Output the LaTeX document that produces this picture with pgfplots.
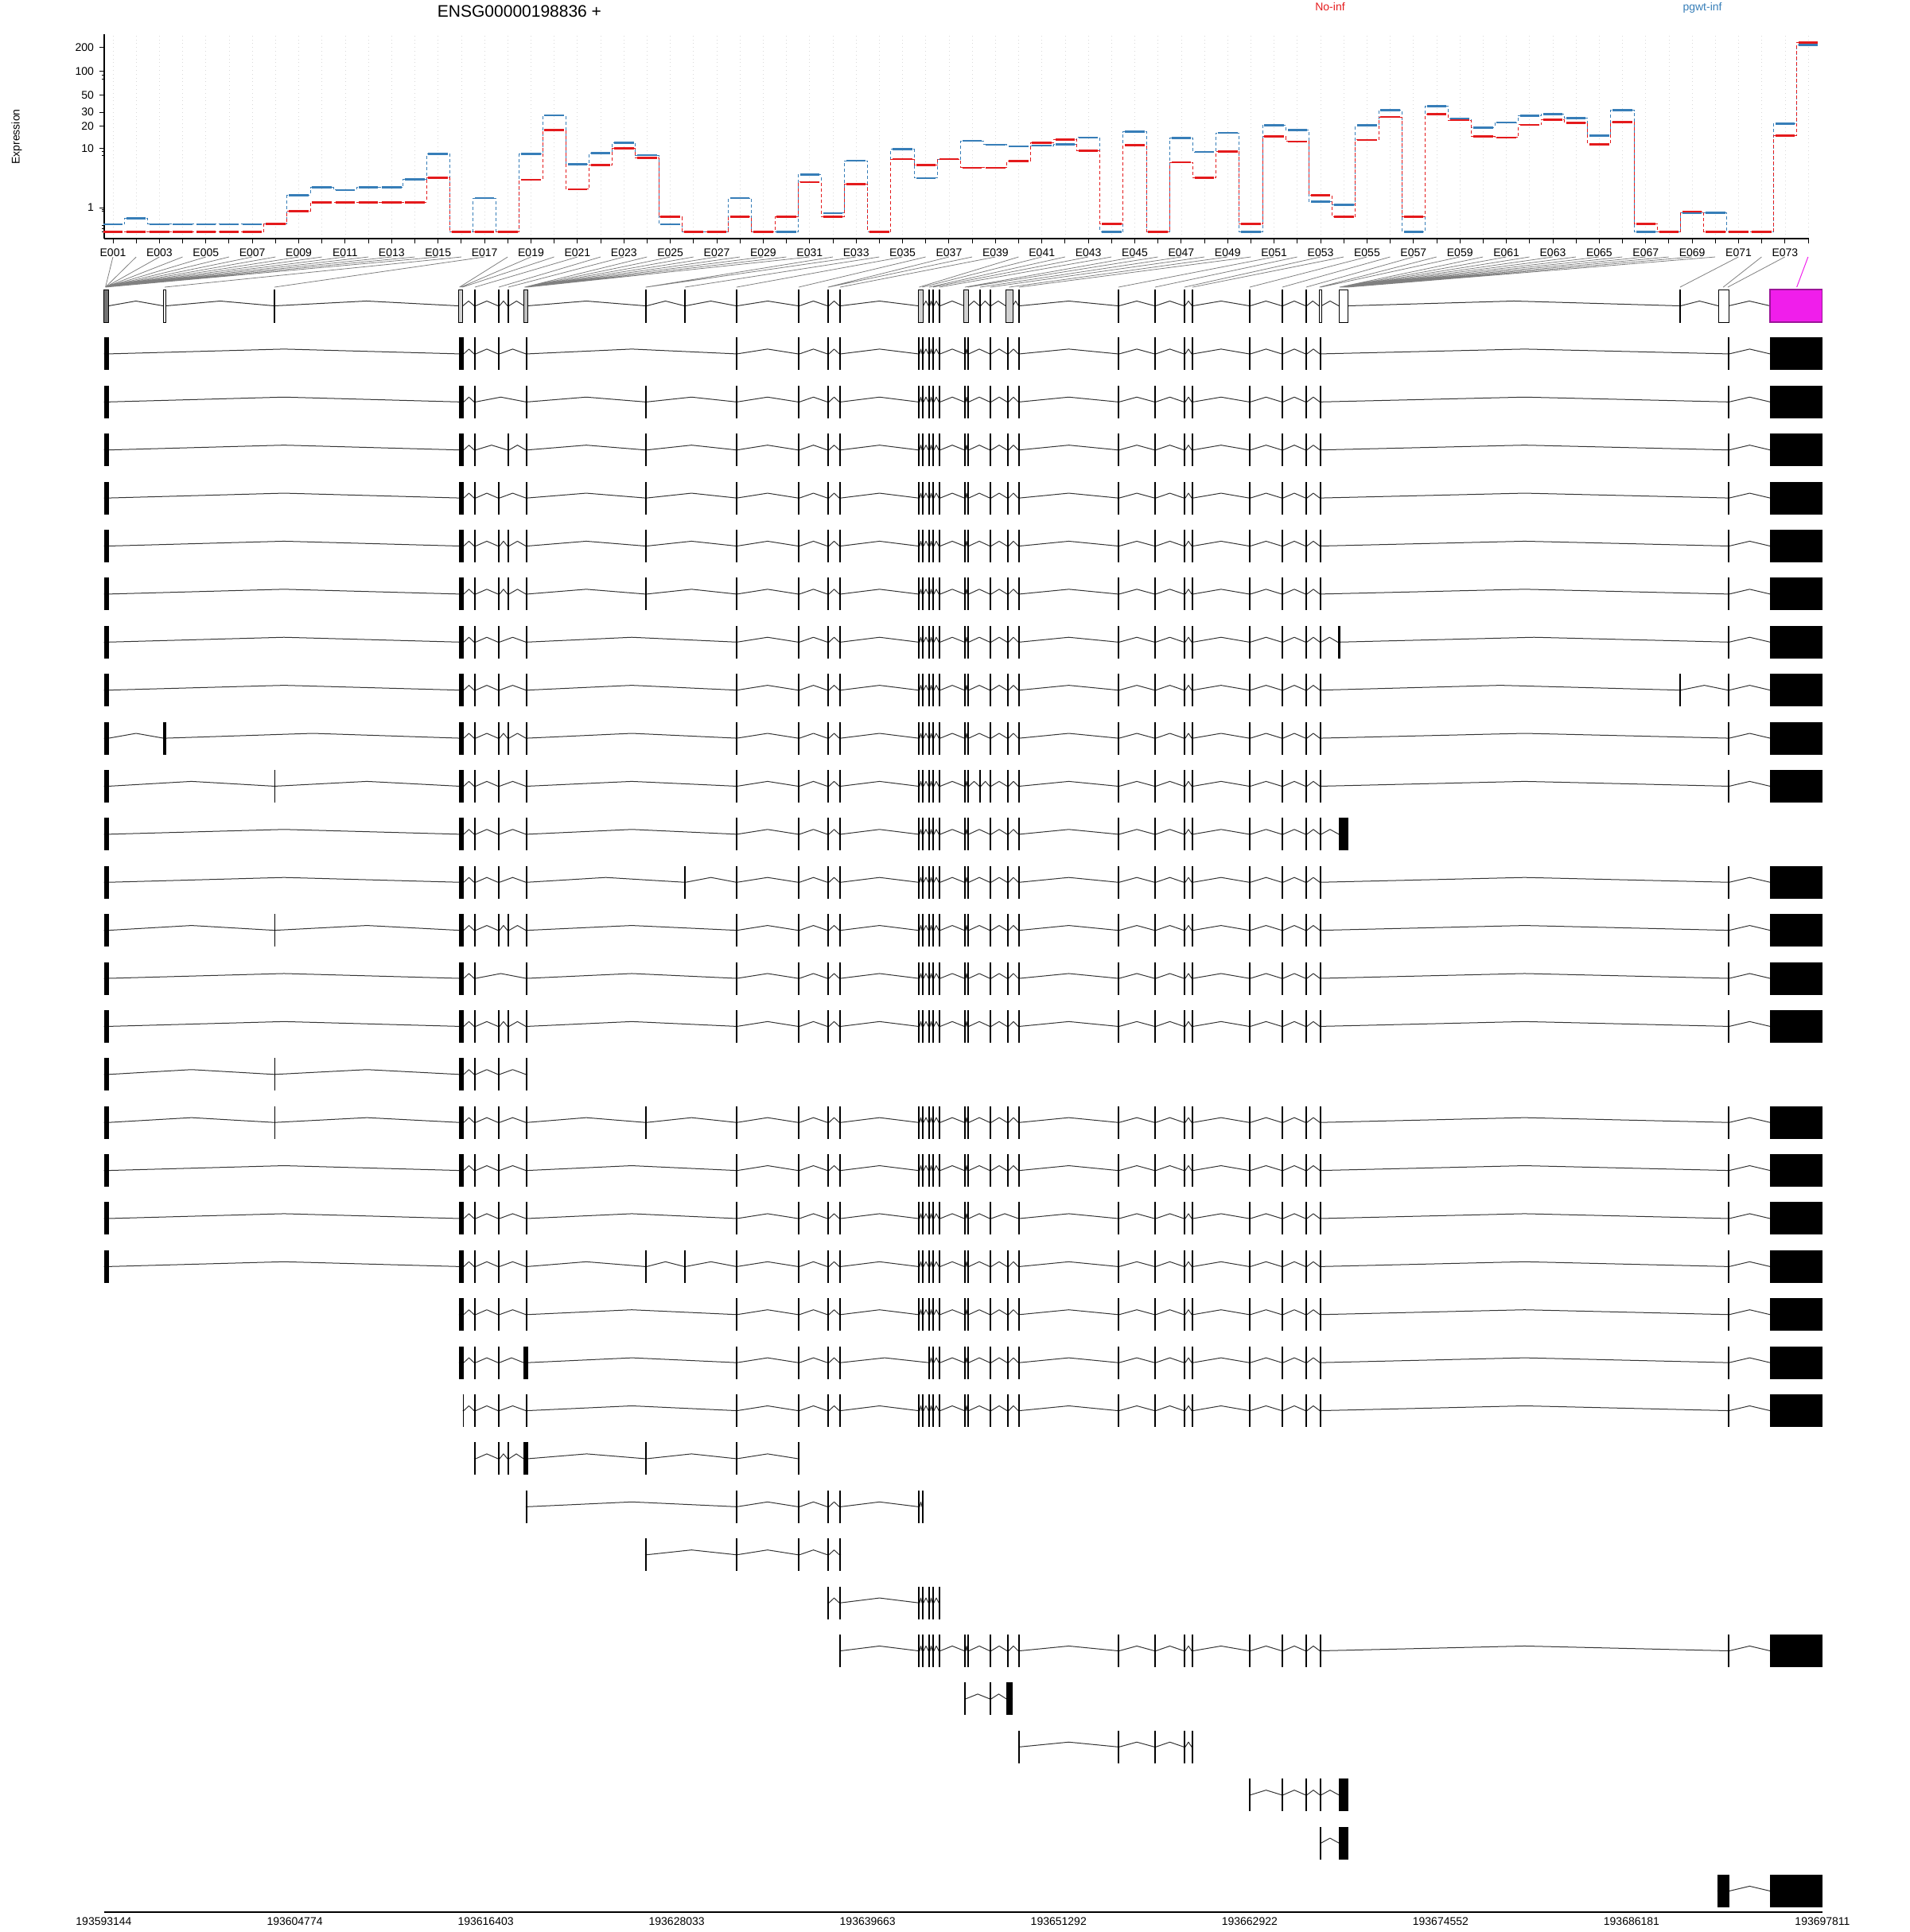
\documentclass[border=0pt]{standalone}
\usepackage{fontspec}
\setmainfont{Liberation Sans}
\usepackage{pgfplots}
\pgfplotsset{compat=1.18}
\usepackage{pgfplotstable}

\definecolor{noinf}{HTML}{E41A1C}
\definecolor{pgwt}{HTML}{377EB8}
\definecolor{sigex}{HTML}{F01EEB}
\definecolor{sigexd}{HTML}{9C1499}

% normalised expression per exonic part (No-inf, pgwt-inf)
\pgfplotstableread{
i no pg
1 0 0.24
2 0 0.46
3 0 0.24
4 0 0.24
5 0 0.24
6 0 0.24
7 0 0.24
8 0.26 0.24
9 0.80 1.84
10 1.33 2.57
11 1.33 2.31
12 1.33 2.57
13 1.33 2.57
14 1.33 3.49
15 3.70 8.31
16 0 0
17 0 1.63
18 0 0
19 3.46 8.31
20 17.5 27.4
21 2.39 5.98
22 5.82 8.53
23 10.0 11.9
24 7.39 8.04
25 0.53 0.24
26 0 0
27 0 0
28 0.53 1.63
29 0 0
30 0.53 0
31 3.16 4.14
32 0.53 0.71
33 2.91 6.71
34 0 0
35 7.07 9.7
36 5.82 3.67
37 7.07 7.07
38 5.3 12.6
39 5.3 11.2
40 6.66 10.6
41 11.9 10.9
42 13.1 11.3
43 9.2 14.0
44 0.26 0
45 11.1 16.7
46 0 0
47 6.36 13.7
48 3.70 8.9
49 8.97 16.1
50 0.26 0
51 14.4 20.2
52 12.4 17.5
53 1.84 1.39
54 0.53 1.16
55 13.0 20.2
56 26.1 31.8
57 0.53 0
58 28.2 36.1
59 23.7 24.9
60 14.4 19.0
61 14.0 22.1
62 20.6 27.2
63 23.9 28.5
64 21.8 25.3
65 11.4 14.9
66 22.5 31.8
67 0.26 0
68 0 0
69 0.78 0.72
70 0 0.72
71 0 0
72 0 0
73 14.8 21.4
74 230 213
}\exprtab

% exon start/end, kb from 193593144
\def\Qa{0.00/0.31}
\def\Qb{3.62/3.80}
\def\Qc{10.37/10.42}
\def\Qd{21.63/21.92}
\def\Qe{22.55/22.65}
\def\Qf{24.00/24.10}
\def\Qg{24.58/24.68}
\def\Qh{25.70/25.80}
\def\Qi{32.96/33.07}
\def\Qj{35.34/35.44}
\def\Qk{38.51/38.57}
\def\Ql{42.27/42.37}
\def\Qm{44.06/44.16}
\def\Qn{44.79/44.89}
\def\Qo{49.59/49.68}
\def\Qp{49.83/49.92}
\def\Qq{50.22/50.31}
\def\QQ{50.46/50.55}
\def\Qr{50.85/50.94}
\def\Qs{52.40/52.49}
\def\Qt{52.59/52.68}
\def\Qu{53.32/53.41}
\def\Qv{53.95/54.04}
\def\Qw{55.01/55.10}
\def\Qx{55.69/55.78}
\def\Qy{61.75/61.84}
\def\Qz{63.98/64.07}
\def\QA{65.77/65.86}
\def\QB{66.25/66.34}
\def\QC{69.74/69.83}
\def\QD{71.73/71.82}
\def\QE{73.18/73.27}
\def\QF{74.05/74.14}
\def\QG{75.14/75.30}
\def\QH{75.21/75.79}
\def\QI{95.95/96.04}
\def\QJ{98.90/98.99}
\def\QK{101.47/104.66}
\def\QL{98.27/98.99}
\def\QM{25.56/25.85}
\def\QN{54.96/55.35}
\def\QO{21.86/21.92}
\def\QR{38.48/38.59}

\def\QMID{\Ql,\Qm,\Qn}
\def\QLC{\Qo,\Qp,\Qq,\QQ,\Qr}
\def\QRR{\Qy,\Qz,\QA,\QB,\QC,\QD,\QE,\QF}
\def\QSTD{\Qk,\QMID,\QLC,\Qs,\Qt,\Qv,\Qw,\Qx,\QRR}
\def\QEND{\QJ,\QK}

% gene model exonic parts (kb)
\def\QGM{0.00/0.30, 3.61/3.80, 10.37/10.41, 21.58/21.87, 22.56/22.64, 24.01/24.09, 24.59/24.67, 25.60/25.80, 32.97/33.06, 35.35/35.43, 38.50/38.58, 42.28/42.36, 44.07/44.15, 44.80/44.87, 49.60/49.90, 50.23/50.30, 50.47/50.54, 50.86/50.93, 52.39/52.66, 53.33/53.39, 53.96/54.02, 54.92/55.35, 55.71/55.77, 61.76/61.82, 63.99/64.05, 65.78/65.84, 66.27/66.33, 69.76/69.81, 71.74/71.80, 73.19/73.25, 74.00/74.15, 75.21/75.79, 95.96/96.03, 98.32/98.95, 101.47/104.66}

\newcommand\buildrow[2]{%
  \edef\rowlist{#2}%
  \pgfmathsetmacro\yapex{#1+0.1}%
  \gdef\incoords{}\gdef\excoords{}\gdef\preve{}%
  \foreach \xs/\xe in \rowlist {%
    \ifx\preve\empty\else
      \pgfmathsetmacro\xmid{(\preve+\xs)/2}%
      \xdef\incoords{\incoords (\xmid,\yapex)}%
    \fi
    \xdef\incoords{\incoords (\xs,#1) (\xe,#1)}%
    \xdef\excoords{\excoords (\xs,#1) (\xe,#1) (nan,nan)}%
    \xdef\preve{\xe}%
  }%
}
\newcommand\exrow[2]{%
  \buildrow{#1}{#2}%
  \edef\tmp{\noexpand\addplot[intron] coordinates {\incoords};}\tmp
  \edef\tmp{\noexpand\addplot[exon] coordinates {\excoords};}\tmp
}
\newcommand\gbox[3]{\addplot[draw=black, line width=0.45pt, fill=#3] coordinates {(#1,-0.34) (#2,-0.34) (#2,0.34) (#1,0.34)} -- cycle;}

\pgfplotsset{
  intron/.style={draw=black!80, line width=0.5pt, mark=none, line join=round},
  exon/.style={draw=black, line width=20.5pt, line cap=butt, mark=none},
}

\begin{document}
\begin{tikzpicture}
\path[use as bounding box] (0,0) rectangle (1200pt,-1214.5pt);

\node[font=\fontsize{10.5}{12}\selectfont, anchor=base] at (326.5pt,-11pt) {ENSG00000198836 +};
\node[font=\fontsize{7}{8}\selectfont, text=noinf, anchor=base] at (836pt,-7pt) {No-inf};
\node[font=\fontsize{7}{8}\selectfont, text=pgwt, anchor=base] at (1070pt,-7pt) {pgwt-inf};
\node[font=\fontsize{7}{8}\selectfont, rotate=90] at (10.5pt,-86pt) {Expression};

\begin{axis}[
  at={(65.5pt,-150pt)}, anchor=south west,
  scale only axis, width=1071.5pt, height=128.5pt,
  xmin=0.623, xmax=74.03, ymin=-0.086, ymax=2.466,
  axis x line*=bottom, axis y line*=left,
  axis line style={line width=0.7pt},
  clip=false,
  xtick={1,...,74},
  xticklabels={E001,,E003,,E005,,E007,,E009,,E011,,E013,,E015,,E017,,E019,,E021,,E023,,E025,,E027,,E029,,E031,,E033,,E035,,E037,,E039,,E041,,E043,,E045,,E047,,E049,,E051,,E053,,E055,,E057,,E059,,E061,,E063,,E065,,E067,,E069,,E071,,E073,},
  ytick={0.30103,1.04139,1.32222,1.49136,1.70757,2.00432,2.30320},
  yticklabels={1,10,20,30,50,100,200},
  minor ytick={0,0.04139,0.07918,0.25527,0.27875,0.95424,1.0,1.90849,1.95904},
  tick align=outside, major tick length=3pt, minor tick length=1.5pt,
  tick style={black, line width=0.5pt},
  tick label style={font=\fontsize{7}{8}\selectfont},
  xmajorgrids, major x grid style={gray!30, dotted, line width=0.4pt},
]
\addplot[pgwt, const plot mark mid, mark=none, line width=0.5pt, dash pattern=on 2pt off 1.5pt]
  table[x=i, y expr={log10(\thisrow{pg}+1)}]{\exprtab};
\addplot[draw=none, mark=none, error bars/.cd, x dir=both, x fixed=0.42, error mark=none,
  error bar style={draw=pgwt, line width=1.3pt, solid}]
  table[x=i, y expr={log10(\thisrow{pg}+1)}]{\exprtab};
\addplot[noinf, const plot mark mid, mark=none, line width=0.5pt, dash pattern=on 2pt off 1.5pt]
  table[x=i, y expr={log10(\thisrow{no}+1)}]{\exprtab};
\addplot[draw=none, mark=none, error bars/.cd, x dir=both, x fixed=0.42, error mark=none,
  error bar style={draw=noinf, line width=1.3pt, solid}]
  table[x=i, y expr={log10(\thisrow{no}+1)}]{\exprtab};
\end{axis}

\begin{axis}[
  at={(65.25pt,-1202pt)}, anchor=south west,
  scale only axis, width=1080.25pt, height=1024.85pt,
  xmin=0, xmax=104.667, ymin=-33.44, ymax=0.5,
  axis x line*=bottom, axis y line=none,
  axis line style={line width=0.7pt},
  clip=false, unbounded coords=jump,
  xtick={0,11.62967,23.25933,34.889,46.51867,58.14833,69.778,81.40767,93.03733,104.667},
  xticklabels={193593144,193604774,193616403,193628033,193639663,193651292,193662922,193674552,193686181,193697811},
  major tick length=0pt,
  tick label style={font=\fontsize{7}{8}\selectfont},
]
% lines from exon labels to gene model
\gdef\lcoords{}
\foreach \ii/\kk in {1/0.10,2/0.10,3/0.10,4/0.10,5/0.10,6/0.10,7/0.10,8/0.10,9/0.10,10/0.10,11/0.10,12/0.10,13/0.10,14/0.10,15/0.10,
 16/3.70,17/10.39,18/21.66,19/21.75,20/21.84,21/22.60,22/24.05,23/24.63,
 24/25.62,25/25.645,26/25.67,27/25.695,28/25.72,29/25.745,30/25.77,31/25.79,
 32/33.00,33/33.04,34/35.39,35/38.54,36/42.32,37/44.09,38/44.13,39/44.84,
 40/49.65,41/49.85,42/50.26,43/50.50,44/50.89,45/52.44,46/52.62,47/53.36,48/53.99,49/55.13,50/55.74,
 51/61.79,52/64.02,53/65.81,54/66.30,55/69.78,56/71.77,57/73.22,58/74.03,59/74.12,
 60/75.25,61/75.30,62/75.35,63/75.40,64/75.45,65/75.50,66/75.55,67/75.60,68/75.65,69/75.70,70/75.75,
 71/95.99,72/98.62,73/98.90}{%
  \pgfmathsetmacro\kt{0.0242+(\ii-0.623)*1.41411}%
  \xdef\lcoords{\lcoords (\kt,1.018) (\kk,0.389) (nan,nan)}%
}
\edef\tmp{\noexpand\addplot[gray, line width=0.4pt, mark=none] coordinates {\lcoords};}\tmp
\addplot[sigex, line width=0.5pt, mark=none] coordinates {(103.787,1.018) (103.1,0.389)};

% gene model
\buildrow{0}{\QGM}
\edef\tmp{\noexpand\addplot[intron] coordinates {\incoords};}\tmp
\foreach \xs/\xe in \QGM {\edef\tmp{\noexpand\gbox{\xs}{\xe}{white}}\tmp}
\gbox{0.00}{0.30}{black!55}
\gbox{21.58}{21.87}{gray!35}
\gbox{25.60}{25.80}{gray!50}
\gbox{49.60}{49.90}{gray!35}
\gbox{52.39}{52.66}{gray!35}
\gbox{54.92}{55.35}{gray!35}
\addplot[draw=sigexd, fill=sigex, line width=0.6pt] coordinates {(101.47,-0.34) (104.66,-0.34) (104.66,0.34) (101.47,0.34)} -- cycle;

% transcripts
\exrow{-1}{\Qa,\Qd,\Qe,\Qf,\Qh,\QSTD,\QEND}
\exrow{-2}{\Qa,\Qd,\Qe,\Qh,\Qi,\QSTD,\QEND}
\exrow{-3}{\Qa,\Qd,\Qe,\Qg,\Qh,\Qi,\QSTD,\QEND}
\exrow{-4}{\Qa,\Qd,\Qe,\Qf,\Qh,\Qi,\QSTD,\QEND}
\exrow{-5}{\Qa,\Qd,\Qe,\Qf,\Qg,\Qh,\Qi,\QSTD,\QEND}
\exrow{-6}{\Qa,\Qd,\Qe,\Qf,\Qg,\Qh,\Qi,\QSTD,\QEND}
\exrow{-7}{\Qa,\Qd,\Qe,\Qf,\Qh,\QSTD,\QG,\QEND}
\exrow{-8}{\Qa,\Qd,\Qe,\Qf,\Qh,\QSTD,\QI,\QEND}
\exrow{-9}{\Qa,\Qb,\Qd,\Qe,\Qf,\Qg,\Qh,\QSTD,\QEND}
\exrow{-10}{\Qa,\Qc,\Qd,\Qe,\Qf,\Qh,\Qk,\QMID,\QLC,\Qs,\Qt,\Qu,\Qv,\Qw,\Qx,\QRR,\QEND}
\exrow{-11}{\Qa,\Qd,\Qe,\Qf,\Qh,\QSTD,\QH}
\exrow{-12}{\Qa,\Qd,\Qe,\Qf,\Qh,\Qj,\QSTD,\QEND}
\exrow{-13}{\Qa,\Qc,\Qd,\Qe,\Qf,\Qg,\Qh,\QSTD,\QEND}
\exrow{-14}{\Qa,\Qd,\Qe,\Qh,\QSTD,\QEND}
\exrow{-15}{\Qa,\Qd,\Qe,\Qf,\Qg,\Qh,\QSTD,\QEND}
\exrow{-16}{\Qa,\Qc,\Qd,\Qe,\Qf,\Qh}
\exrow{-17}{\Qa,\Qc,\Qd,\Qe,\Qf,\Qh,\Qi,\QSTD,\QEND}
\exrow{-18}{\Qa,\Qd,\Qe,\Qf,\Qh,\QR,\QMID,\QLC,\Qs,\Qt,\Qv,\Qw,\Qx,\QRR,\QEND}
\exrow{-19}{\Qa,\Qd,\Qe,\Qf,\Qh,\Qk,\QMID,\QLC,\Qs,\Qt,\Qv,\Qx,\QRR,\QEND}
\exrow{-20}{\Qa,\Qd,\Qe,\Qf,\Qh,\Qi,\Qj,\QSTD,\QEND}
\exrow{-21}{\Qd,\Qe,\Qf,\Qh,\QSTD,\QEND}
\exrow{-22}{\Qd,\Qe,\Qf,\QM,\Qk,\QMID,\Qq,\QQ,\Qr,\Qs,\Qt,\Qv,\Qw,\Qx,\QRR,\QEND}
\exrow{-23}{\QO,\Qe,\Qf,\Qh,\QSTD,\QEND}
\exrow{-24}{\Qe,\Qf,\Qg,\QM,\Qi,\Qk,\Ql}
\exrow{-25}{\Qh,\Qk,\QMID,\Qo,\Qp}
\exrow{-26}{\Qi,\Qk,\QMID}
\exrow{-27}{\Qm,\Qn,\QLC}
\exrow{-28}{\Qn,\QLC,\Qs,\Qt,\Qv,\Qw,\Qx,\QRR,\QEND}
\exrow{-29}{\Qs,\Qv,\QN}
\exrow{-30}{\Qx,\Qy,\Qz,\QA,\QB}
\exrow{-31}{\QC,\QD,\QE,\QF,\QH}
\exrow{-32}{\QF,\QH}
\exrow{-33}{\QL,\QK}
\end{axis}
\end{tikzpicture}
\end{document}
